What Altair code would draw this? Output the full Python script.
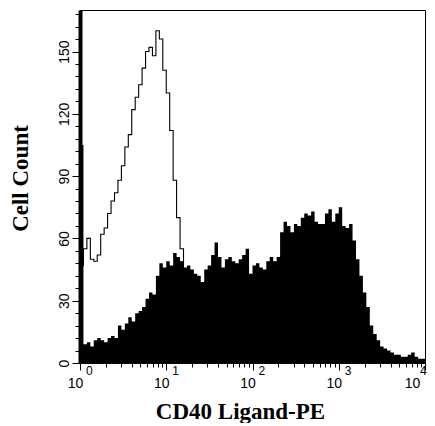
import altair as alt
import pandas as pd
import numpy as np

# 100 log-spaced channels spanning 10^0 .. 10^4 (25 channels per decade)
N_CHANNELS = 100
LOG_MAX = 4

# CD40 Ligand-PE stained sample (filled histogram), counts per channel
stained_counts = [
    105, 9, 10, 8, 11, 12, 11, 10, 12, 13,
    12, 18, 16, 19, 22, 20, 24, 25, 27, 31,
    34, 33, 42, 48, 46, 49, 47, 53, 51, 49,
    46, 47, 45, 43, 42, 39, 45, 47, 52, 58,
    51, 46, 50, 51, 49, 48, 50, 52, 55, 43,
    47, 48, 46, 45, 49, 51, 49, 51, 63, 68,
    66, 63, 67, 66, 70, 72, 71, 73, 68, 67,
    67, 72, 74, 68, 72, 75, 66, 65, 67, 59,
    50, 42, 34, 27, 18, 14, 11, 8, 7, 6,
    5, 4, 4, 3, 3, 4, 5, 3, 2, 2,
]

# Isotype control (open histogram), first channels only (rest hidden under fill)
control_counts = [
    47, 55, 60, 50, 49, 52, 62, 65, 72, 78,
    82, 88, 95, 104, 110, 122, 128, 134, 142, 150,
    152, 148, 160, 156, 141, 130, 112, 88, 70, 55,
    45, 38, 30,
]

x_ticks = [d * 10 ** k for k in range(4) for d in range(1, 10)] + [10000]
x_decades = [1, 10, 100, 1000, 10000]
x_exponents = ["0", "1", "2", "3", "4"]
y_ticks = list(range(0, 170, 6))

edges = 10 ** (np.arange(N_CHANNELS + 1) * LOG_MAX / N_CHANNELS)

stained = pd.DataFrame({
    "x": edges[: len(stained_counts) + 1],
    "count": stained_counts + [stained_counts[-1]],
})
control = pd.DataFrame({
    "x": edges[: len(control_counts) + 1],
    "count": control_counts + [control_counts[-1]],
})
exps = pd.DataFrame({"x": x_decades, "exp": x_exponents})

sans = "Liberation Sans Narrow, Liberation Sans, Arial"
serif = "Liberation Serif"
PLOT_W, PLOT_H = 345, 353

major_test = "indexof([1,10,100,1000,10000], datum.value) >= 0"

x_axis = alt.Axis(
    orient="bottom",
    values=x_ticks,
    labelExpr=major_test + " ? '10' : ''",
    labelOverlap=False,
    labelBound=False,
    labelFlush=False,
    labelFont=sans,
    labelFontSize=14,
    labelColor="black",
    labelPadding=6,
    labelOffset={"condition": {"test": "datum.value == 10000", "value": -13}, "value": -5},
    tickSize={"condition": {"test": major_test, "value": 7}, "value": 4},
    tickColor="black",
    tickWidth=1,
    domainColor="black",
    domainWidth=1,
    grid=False,
    title="CD40 Ligand-PE",
    titleFont=serif,
    titleFontSize=23,
    titleFontWeight="bold",
    titleColor="black",
    titleX=160,
    titleY=37,
    titleAlign="center",
    titleBaseline="top",
)

y_axis = alt.Axis(
    orient="left",
    values=y_ticks,
    labelExpr="datum.value % 30 === 0 ? datum.label : ''",
    labelOverlap=False,
    labelBound=False,
    labelFlush=False,
    labelAngle=270,
    labelFont=sans,
    labelFontSize=14,
    labelColor="black",
    labelPadding=1,
    tickSize={"condition": {"test": "datum.value % 30 === 0", "value": 8}, "value": 5},
    tickColor="black",
    tickWidth=1,
    domainColor="black",
    domainWidth=4,
    grid=False,
    title="Cell Count",
    titleFont=serif,
    titleFontSize=23,
    titleFontWeight="bold",
    titleColor="black",
    titleX=-60,
    titleY=168,
    titleAngle=270,
    titleAlign="center",
    titleBaseline="middle",
)

x_scale = alt.Scale(type="log", domain=[1, 10000], nice=False)
y_scale = alt.Scale(domain=[0, 170], nice=False)

X = alt.X("x:Q", scale=x_scale, axis=x_axis)
Y = alt.Y("count:Q", scale=y_scale, axis=y_axis)

outline = alt.Chart(control).mark_line(
    interpolate="step-after", color="black", strokeWidth=1.1
).encode(x=X, y=Y)

filled = alt.Chart(stained).mark_area(
    interpolate="step-after", color="black", opacity=1
).encode(x=X, y=Y)

# superscript exponents of the decade tick labels
exp_text = alt.Chart(exps).mark_text(
    align="left", baseline="top", font=sans, fontSize=12, color="black", dx=6
).transform_filter("datum.x < 10000").encode(
    x=X, y=alt.value(PLOT_H + 3), text="exp:N"
)
exp_last = alt.Chart(exps).mark_text(
    align="left", baseline="top", font=sans, fontSize=12, color="black", dx=-5
).transform_filter("datum.x == 10000").encode(
    x=X, y=alt.value(PLOT_H + 3), text="exp:N"
)

chart = alt.layer(outline, filled, exp_text, exp_last).properties(
    width=PLOT_W,
    height=PLOT_H,
    autosize=alt.AutoSizeParams(type="none"),
    padding={"left": 72, "top": 2, "right": 2, "bottom": 60},
    background="white",
).configure_view(stroke="black", strokeWidth=1)

chart.save("out.html", embed_options={"renderer": "svg", "actions": False})
